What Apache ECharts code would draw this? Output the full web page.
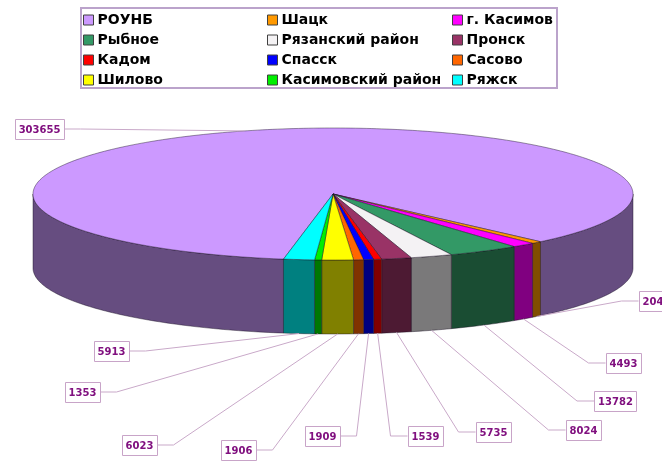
<!DOCTYPE html>
<html>
<head>
<meta charset="utf-8">
<script src="https://cdn.jsdelivr.net/npm/echarts@6/dist/echarts.min.js"></script>
<style>
html, body { margin: 0; padding: 0; background: #fff; }
#main { width: 662px; height: 461px; }
</style>
</head>
<body>
<div id="main"></div>
<script>
var chartDom = document.getElementById('main');
var myChart = echarts.init(chartDom);

// data, in legend order (clockwise from the big slice)
var names = ['РОУНБ', 'Шацк', 'г. Касимов', 'Рыбное', 'Рязанский район', 'Пронск',
  'Кадом', 'Спасск', 'Сасово', 'Шилово', 'Касимовский район', 'Ряжск'];
var values = [303655, 2040, 4493, 13782, 8024, 5735, 1539, 1909, 1906, 6023, 1353, 5913];
var colors = ['#cc99ff', '#ff9900', '#ff00ff', '#339966', '#f4f2f4', '#993366',
  '#ff0000', '#0000ff', '#ff6600', '#ffff00', '#00ee00', '#00ffff'];

// label boxes (centre of each box), layout only
var labelPos = [[39, 129], [656, 301], [623, 363], [615, 401], [583, 430], [493, 432],
  [425, 436], [322, 436], [238, 450], [139, 445], [82, 392], [111, 351]];

// pie geometry (3d look)
var cx = 333, cy = 194, rx = 300, ry = 66, depth = 74;
var startAngle = 99.5;

var total = values.reduce(function (s, v) { return s + v; }, 0);
var cum = [];
values.reduce(function (s, v, i) { cum[i] = s; return s + v; }, 0);

function darker(hex) {
  var n = parseInt(hex.slice(1), 16);
  var r = (n >> 16) & 255, g = (n >> 8) & 255, b = n & 255;
  return 'rgb(' + Math.round(r / 2) + ',' + Math.round(g / 2) + ',' + Math.round(b / 2) + ')';
}

function pt(t, dy) {
  var r = t * Math.PI / 180;
  return [cx + rx * Math.cos(r), cy + ry * Math.sin(r) + (dy || 0)];
}

function arc(a, b, dy) {
  var pts = [];
  var n = Math.max(2, Math.ceil(b - a));
  for (var k = 0; k <= n; k++) {
    pts.push(pt(a + (b - a) * k / n, dy));
  }
  return pts;
}

function renderItem(params, api) {
  var i = params.dataIndex;
  var v = api.value(0);
  var a = startAngle + cum[i] / total * 360;
  var b = a + v / total * 360;
  var children = [];
  var edge = 'rgba(20,10,30,0.7)';

  // outer wall, only the front half is seen
  [0, 360].forEach(function (k) {
    var lo = Math.max(a, k), hi = Math.min(b, k + 180);
    if (hi > lo) {
      var pts = arc(lo, hi, 0).concat(arc(lo, hi, depth).reverse());
      children.push({
        type: 'polygon', z2: 1,
        shape: { points: pts },
        style: { fill: darker(colors[i]), stroke: edge, lineWidth: 0.6 }
      });
    }
  });

  // top face
  children.push({
    type: 'polygon', z2: 2,
    shape: { points: [[cx, cy]].concat(arc(a, b, 0)) },
    style: { fill: colors[i], stroke: edge, lineWidth: 0.6 }
  });

  // label with leader line
  var m = (a + b) / 2;
  var front = Math.sin(m * Math.PI / 180) > 0;
  var anchor = pt(m, front ? depth : 0);
  var txt = String(v);
  var w = txt.length * 7 + 7, h = 20;
  var lp = labelPos[i];
  var left = lp[0] < anchor[0];
  var ex = left ? lp[0] + w / 2 : lp[0] - w / 2;
  var elbow = left ? ex + 17 : ex - 17;
  children.push({
    type: 'polyline', z2: 3,
    shape: { points: [[ex, lp[1]], [elbow, lp[1]], anchor] },
    style: { stroke: '#c9a9c9', lineWidth: 1, fill: null }
  });
  children.push({
    type: 'rect', z2: 4,
    shape: { x: Math.round(lp[0] - w / 2) + 0.5, y: Math.round(lp[1] - h / 2) + 0.5, width: w, height: h },
    style: { fill: '#fff', stroke: '#c8a4c8', lineWidth: 1 }
  });
  children.push({
    type: 'text', z2: 5,
    x: lp[0] + 0.5, y: lp[1] + 1,
    style: {
      text: txt, fill: '#80107f', align: 'center', verticalAlign: 'middle',
      font: 'bold 10px "DejaVu Sans", sans-serif'
    }
  });

  return { type: 'group', children: children };
}

var legendLeft = [83, 267, 452];

var option = {
  animation: false,
  graphic: [{
    type: 'rect', z: -1,
    shape: { x: 81, y: 8, width: 476, height: 80 },
    style: { fill: '#fff', stroke: '#bba3cb', lineWidth: 2 }
  }],
  legend: legendLeft.map(function (x, c) {
    return {
      orient: 'vertical',
      left: x, top: 12,
      padding: 0,
      itemWidth: 10, itemHeight: 10, itemGap: 4,
      icon: 'rect',
      selectedMode: false,
      itemStyle: { borderColor: '#404040', borderWidth: 1 },
      textStyle: { fontFamily: '"DejaVu Sans", sans-serif', fontWeight: 'bold', fontSize: 14, color: '#000', lineHeight: 16, padding: [0, 0, 0, -1] },
      data: [0, 1, 2, 3].map(function (r) { return names[r * 3 + c]; })
    };
  }),
  series: [
    {
      // only feeds the legend
      type: 'pie',
      radius: [0, 0],
      center: [-100, -100],
      silent: true,
      label: { show: false },
      labelLine: { show: false },
      data: names.map(function (n, i) {
        return { name: n, value: values[i], itemStyle: { color: colors[i] } };
      })
    },
    {
      type: 'custom',
      coordinateSystem: 'none',
      silent: true,
      renderItem: renderItem,
      data: values.map(function (v) { return [v]; })
    }
  ]
};

option && myChart.setOption(option);
</script>
</body>
</html>
